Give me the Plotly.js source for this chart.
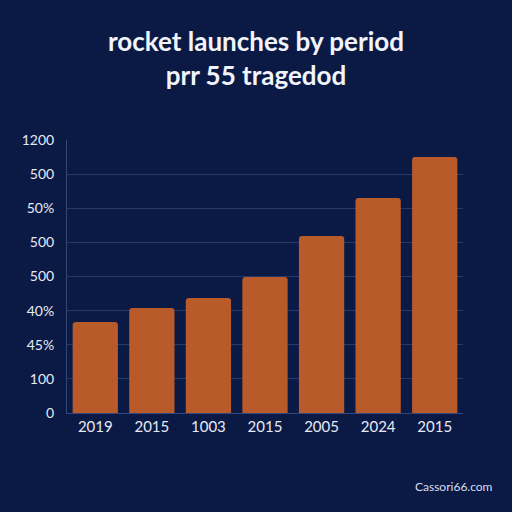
<!DOCTYPE html>
<html>
<head>
<meta charset="utf-8">
<script src="https://cdn.plot.ly/plotly-3.0.1.min.js"></script>
<style>
  html, body { margin: 0; padding: 0; background: #0b1a45; }
  #chart { width: 512px; height: 512px; }
</style>
</head>
<body>
<div id="chart"></div>
<script>
// bar labels as printed under each bar (some repeat, so bars sit on numeric slots)
var yearLabels = ['2019', '2015', '1003', '2015', '2005', '2024', '2015'];
var barValues = [400, 462, 505, 598, 778, 945, 1125];

// y ticks: evenly spaced, but the printed labels are the picture's own
var yTickVals = [0, 150, 300, 450, 600, 750, 900, 1050, 1200];
var yTickText = ['0', '100', '45%', '40%', '500', '500', '50%', '500', '1200'];

var slots = yearLabels.map(function(_, i) { return i; });

var bars = {
  x: slots,
  y: barValues,
  type: 'bar',
  marker: { color: '#b95a2b', cornerradius: 3 },
  hoverinfo: 'y'
};

var layout = {
  width: 512,
  height: 512,
  paper_bgcolor: '#0b1a45',
  plot_bgcolor: '#0b1a45',
  margin: { l: 67, r: 49, t: 140, b: 99 },
  bargap: 0.2,
  showlegend: false,
  font: { family: 'Lato, "Open Sans", sans-serif', color: '#e6eaf5' },
  title: {
    text: '<b>rocket launches by period</b><br><b>prr 55 tragedod</b>',
    font: { family: 'Lato, "Open Sans", sans-serif', size: 26, color: '#f1f4fb' },
    x: 0.5,
    xanchor: 'center',
    y: 0.9,
    yanchor: 'top'
  },
  xaxis: {
    tickmode: 'array',
    tickvals: slots,
    ticktext: yearLabels,
    range: [-0.5, 6.5],
    showgrid: false,
    showline: true,
    linecolor: '#34477a',
    linewidth: 1,
    ticks: '',
    tickfont: { size: 15, color: '#e6eaf5' },
    zeroline: false
  },
  yaxis: {
    range: [0, 1200],
    tickmode: 'array',
    tickvals: yTickVals,
    ticktext: yTickText,
    showgrid: true,
    gridcolor: '#253a6b',
    gridwidth: 1,
    showline: true,
    linecolor: '#34477a',
    ticks: '',
    ticklabelstandoff: 9,
    tickfont: { size: 14, color: '#e6eaf5' },
    zeroline: false
  },
  annotations: [{
    text: 'Cassori66.com',
    xref: 'paper', yref: 'paper',
    x: 1.08, y: -0.27,
    xanchor: 'right', yanchor: 'middle',
    showarrow: false,
    font: { size: 12, color: '#d8deee' }
  }]
};

Plotly.newPlot('chart', [bars], layout, { displayModeBar: false, staticPlot: true });
</script>
</body>
</html>
